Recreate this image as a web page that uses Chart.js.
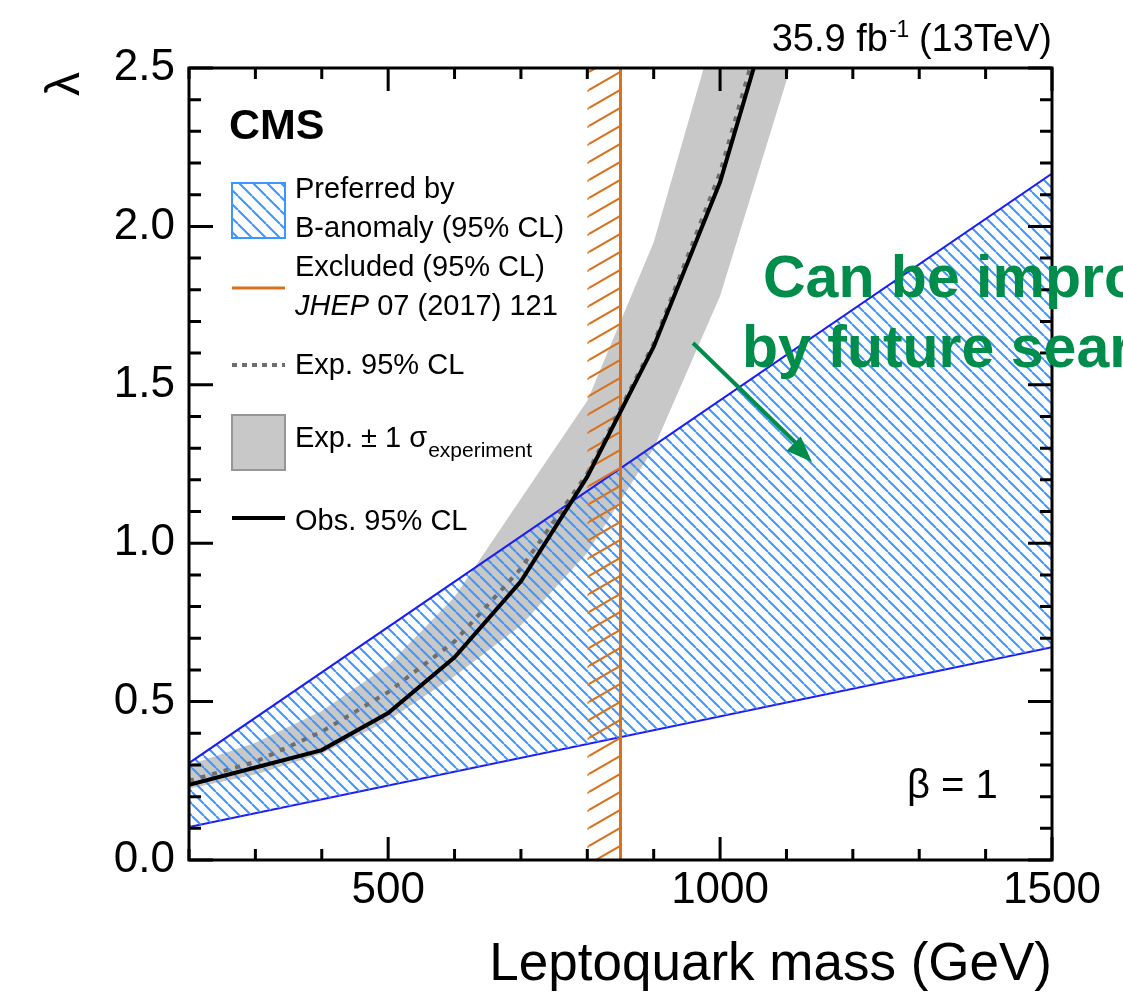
<!DOCTYPE html>
<html>
<head>
<meta charset="utf-8">
<script src="https://cdn.jsdelivr.net/npm/chart.js@4"></script>
<style>
body { margin: 0; background: #fff; }
</style>
</head>
<body>
<canvas id="myChart" width="1123" height="997"></canvas>
<script>
// values (GeV, lambda)
const masses = [200, 300, 400, 500, 600, 700, 800, 900, 1000, 1100];
const observed = [0.237, 0.292, 0.347, 0.464, 0.64, 0.88, 1.21, 1.62, 2.14, 2.85];
const expected = [0.25, 0.31, 0.405, 0.53, 0.69, 0.92, 1.22, 1.63, 2.17, 2.9];
const bandMasses = [200, 300, 400, 500, 600, 700, 800, 900, 1000, 1100, 1200];
const expUp = [0.30, 0.37, 0.47, 0.615, 0.83, 1.14, 1.45, 1.95, 2.68, 3.5, 4.4];
const expDown = [0.225, 0.27, 0.335, 0.44, 0.58, 0.74, 0.97, 1.30, 1.78, 2.46, 3.3];
const anomalyMass = [200, 1500];
const anomalyUp = [0.306, 2.167];
const anomalyDown = [0.104, 0.672];
const excludedMass = [800, 850];
const xTicks = [500, 1000, 1500];
const yTicks = [0, 0.5, 1, 1.5, 2, 2.5];

const FONT = 'Liberation Sans, Arial, sans-serif';
const ctx = document.getElementById('myChart');
const g0 = ctx.getContext('2d');

function pts(xs, ys) {
    return xs.map((x, i) => ({ x: x, y: ys[i] }));
}

// "\" hatch
function backHatch(size, color, width) {
    const c = document.createElement('canvas');
    c.width = size; c.height = size;
    const g = c.getContext('2d');
    g.strokeStyle = color; g.lineWidth = width;
    g.beginPath();
    for (let k = -1; k <= 1; k++) {
        g.moveTo(k * size, 0);
        g.lineTo(k * size + size, size);
    }
    g.stroke();
    return g0.createPattern(c, 'repeat');
}

// "/" hatch, flat
function fwdHatch(w, h, color, width) {
    const c = document.createElement('canvas');
    c.width = w; c.height = h;
    const g = c.getContext('2d');
    g.strokeStyle = color; g.lineWidth = width;
    g.beginPath();
    for (let k = -1; k <= 1; k++) {
        g.moveTo(0, h + k * h);
        g.lineTo(w, k * h);
    }
    g.stroke();
    return g0.createPattern(c, 'repeat');
}

const BLUE_HATCH = 'rgb(60,150,255)';
const BLUE_EDGE = 'rgb(30,30,240)';
const ORANGE = 'rgb(215,115,30)';
const GRAY = 'rgb(200,200,200)';
const GREEN = 'rgb(0,140,75)';

const bluePattern = backHatch(12, BLUE_HATCH, 2);
const blueLegendPattern = backHatch(14, BLUE_HATCH, 2);
const orangePattern = fwdHatch(31, 18, ORANGE, 2);

const decor = {
    id: 'decor',
    afterDraw(chart) {
        const c = chart.ctx, a = chart.chartArea;
        const sx = chart.scales.x, sy = chart.scales.y;
        c.save();

        // frame and inward ticks on all sides
        c.strokeStyle = '#000';
        c.lineWidth = 3;
        c.beginPath();
        for (let m = 200; m <= 1500; m += 100) {
            const px = sx.getPixelForValue(m);
            const len = m % 500 === 0 ? 23 : 11;
            c.moveTo(px, a.bottom); c.lineTo(px, a.bottom - len);
            c.moveTo(px, a.top); c.lineTo(px, a.top + len);
        }
        for (let i = 0; i <= 25; i++) {
            const py = sy.getPixelForValue(i / 10);
            const len = i % 5 === 0 ? 24 : 12;
            c.moveTo(a.left, py); c.lineTo(a.left + len, py);
            c.moveTo(a.right, py); c.lineTo(a.right - len, py);
        }
        c.stroke();
        c.strokeRect(a.left, a.top, a.right - a.left, a.bottom - a.top);

        c.fillStyle = '#000';
        c.textBaseline = 'alphabetic';

        // axis titles
        c.font = '53px ' + FONT;
        c.textAlign = 'right';
        c.fillText('Leptoquark mass (GeV)', a.right, 980);
        c.save();
        c.translate(66, 84);
        c.rotate(-Math.PI / 2);
        c.textAlign = 'center';
        c.textBaseline = 'middle';
        c.font = '48px ' + FONT;
        c.fillText('\u03bb', 0, 0);
        c.restore();

        // lumi label
        c.textAlign = 'left';
        const p1 = '35.9 fb', p3 = ' (13TeV)';
        c.font = '23px ' + FONT;
        const w2 = c.measureText('-1').width;
        c.font = '38px ' + FONT;
        const w1 = c.measureText(p1).width, w3 = c.measureText(p3).width;
        let x0 = a.right - (w1 + w2 + w3);
        c.fillText(p1, x0, 51);
        c.font = '23px ' + FONT;
        c.fillText('-1', x0 + w1 + 1, 37);
        c.font = '38px ' + FONT;
        c.fillText(p3, x0 + w1 + w2, 51);

        // CMS
        c.font = 'bold 43px ' + FONT;
        c.fillText('CMS', 229, 139);

        // beta = 1
        c.font = '40px ' + FONT;
        c.fillText('\u03b2 = 1', 907, 798);

        // legend
        const lx = 232, lw = 53, tx = 295;
        c.fillStyle = blueLegendPattern;
        c.fillRect(lx, 183, lw, 55);
        c.strokeStyle = BLUE_HATCH; c.lineWidth = 2;
        c.strokeRect(lx, 183, lw, 55);

        c.strokeStyle = ORANGE; c.lineWidth = 3;
        c.beginPath(); c.moveTo(lx, 288); c.lineTo(lx + lw, 288); c.stroke();

        c.strokeStyle = 'rgb(110,110,110)'; c.lineWidth = 4;
        c.setLineDash([5, 5]);
        c.beginPath(); c.moveTo(lx, 365); c.lineTo(lx + lw, 365); c.stroke();
        c.setLineDash([]);

        c.fillStyle = GRAY;
        c.fillRect(lx, 415, lw, 55);
        c.strokeStyle = 'rgb(150,150,150)'; c.lineWidth = 2;
        c.strokeRect(lx, 415, lw, 55);

        c.strokeStyle = '#000'; c.lineWidth = 4;
        c.beginPath(); c.moveTo(lx, 518); c.lineTo(lx + lw, 518); c.stroke();

        c.fillStyle = '#000';
        c.font = '29px ' + FONT;
        c.fillText('Preferred by', tx, 198);
        c.fillText('B-anomaly (95% CL)', tx, 237);
        c.fillText('Excluded (95% CL)', tx, 276);
        c.font = 'italic 29px ' + FONT;
        c.fillText('JHEP', tx, 315);
        const wj = c.measureText('JHEP').width;
        c.font = '29px ' + FONT;
        c.fillText(' 07 (2017) 121', tx + wj, 315);
        c.fillText('Exp. 95% CL', tx, 374);
        const s1 = 'Exp. \u00b1 1 \u03c3';
        c.fillText(s1, tx, 447);
        const ws = c.measureText(s1).width;
        c.font = '21px ' + FONT;
        c.fillText('experiment', tx + ws + 1, 457);
        c.font = '29px ' + FONT;
        c.fillText('Obs. 95% CL', tx, 530);

        // green annotation
        c.fillStyle = GREEN;
        c.font = 'bold 59px ' + FONT;
        c.fillText('Can be improved', 763, 297);
        c.fillText('by future searches', 742, 367);
        c.strokeStyle = GREEN; c.lineWidth = 4;
        c.beginPath(); c.moveTo(693, 343); c.lineTo(800, 447); c.stroke();
        const ang = Math.atan2(460 - 343, 810 - 693);
        c.save();
        c.translate(812, 462);
        c.rotate(ang);
        c.beginPath();
        c.moveTo(0, 0); c.lineTo(-26, -10); c.lineTo(-26, 10); c.closePath();
        c.fill();
        c.restore();

        c.restore();
    }
};

const myChart = new Chart(ctx, {
    type: 'scatter',
    data: {
        datasets: [
            {
                label: 'Obs. 95% CL',
                data: pts(masses, observed),
                showLine: true, borderColor: '#000', borderWidth: 4,
                pointRadius: 0, tension: 0, order: 1, clip: 0
            },
            {
                label: 'Exp. 95% CL',
                data: pts(masses, expected),
                showLine: true, borderColor: 'rgb(110,110,110)', borderWidth: 4,
                borderDash: [5, 7], pointRadius: 0, tension: 0, order: 2, clip: 0
            },
            {
                label: 'Excluded',
                data: pts([excludedMass[1], excludedMass[1]], [0, 2.5]),
                showLine: true, borderColor: ORANGE, borderWidth: 3,
                pointRadius: 0, order: 3, clip: 0
            },
            {
                label: 'Excluded area',
                data: pts(excludedMass, [2.5, 2.5]),
                showLine: true, borderWidth: 0, borderColor: 'rgba(0,0,0,0)',
                backgroundColor: orangePattern, fill: 'origin',
                pointRadius: 0, order: 4, clip: 0
            },
            {
                label: 'B-anomaly up',
                data: pts(anomalyMass, anomalyUp),
                showLine: true, borderColor: BLUE_EDGE, borderWidth: 2,
                backgroundColor: bluePattern, fill: '+1',
                pointRadius: 0, order: 5, clip: 0
            },
            {
                label: 'B-anomaly down',
                data: pts(anomalyMass, anomalyDown),
                showLine: true, borderColor: BLUE_EDGE, borderWidth: 2,
                pointRadius: 0, order: 6, clip: 0
            },
            {
                label: 'Exp +1 sigma',
                data: pts(bandMasses, expUp),
                showLine: true, borderWidth: 0, borderColor: 'rgba(0,0,0,0)',
                backgroundColor: GRAY, fill: '+1',
                pointRadius: 0, tension: 0, order: 7, clip: 0
            },
            {
                label: 'Exp -1 sigma',
                data: pts(bandMasses, expDown),
                showLine: true, borderWidth: 0, borderColor: 'rgba(0,0,0,0)',
                pointRadius: 0, tension: 0, order: 8, clip: 0
            }
        ]
    },
    options: {
        responsive: false,
        animation: false,
        layout: { padding: { top: 68, right: 71, left: 0, bottom: 0 } },
        plugins: { legend: { display: false }, tooltip: { enabled: false } },
        scales: {
            x: {
                type: 'linear', min: 200, max: 1500,
                grid: { display: false, drawTicks: false },
                border: { display: false },
                afterBuildTicks: s => { s.ticks = xTicks.map(v => ({ value: v })); },
                afterFit: s => { s.height = 137; },
                ticks: {
                    color: '#000', padding: 4, maxRotation: 0, autoSkip: false,
                    font: { family: FONT, size: 44 },
                    callback: v => String(v)
                }
            },
            y: {
                type: 'linear', min: 0, max: 2.5,
                grid: { display: false, drawTicks: false },
                border: { display: false },
                afterBuildTicks: s => { s.ticks = yTicks.map(v => ({ value: v })); },
                afterFit: s => { s.width = 189; },
                ticks: {
                    color: '#000', padding: 14, autoSkip: false,
                    font: { family: FONT, size: 44 },
                    callback: v => v.toFixed(1)
                }
            }
        }
    },
    plugins: [decor]
});
</script>
</body>
</html>
